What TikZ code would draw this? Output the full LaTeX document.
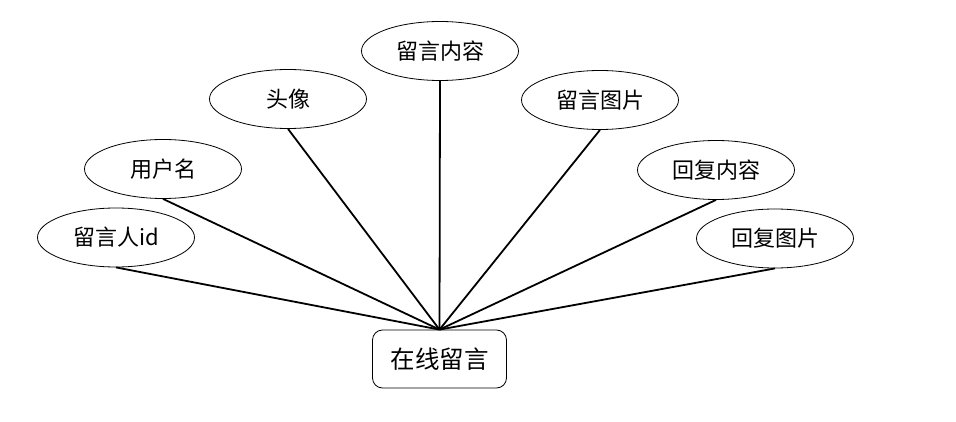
\documentclass[tikz,border=0pt]{standalone}
\usepackage{fontspec}
\setmainfont{Liberation Serif}
\newfontfamily\cjk{Noto Sans CJK SC}
\usetikzlibrary{shapes.geometric}
\begin{document}
\begin{tikzpicture}[x=1pt,y=-1pt,
  attr/.style={ellipse,draw,line width=0.8pt,minimum width=157pt,minimum height=59pt,inner sep=0pt,font=\cjk\fontsize{22}{22}\selectfont},
  ent/.style={rectangle,rounded corners=10pt,draw,line width=0.8pt,minimum width=134pt,minimum height=58pt,inner sep=0pt,font=\cjk\fontsize{24.5}{24.5}\selectfont},
  conn/.style={line width=1.8pt}]
\useasboundingbox (0,0) rectangle (956,422);
\node[ent] (e) at (439.5,359) {在线留言};
\node[attr] (a1) at (116,237.5) {留言人id};
\node[attr] (a2) at (163,169) {用户名};
\node[attr] (a3) at (288,99) {头像};
\node[attr] (a4) at (440,51) {留言内容};
\node[attr] (a5) at (600,100) {留言图片};
\node[attr] (a6) at (716,170) {回复内容};
\node[attr] (a7) at (775,238.5) {回复图片};
\foreach \a in {a1,a2,a3,a4,a5,a6,a7}{\draw[conn] (\a.south) -- (e.north);}
\end{tikzpicture}
\end{document}
